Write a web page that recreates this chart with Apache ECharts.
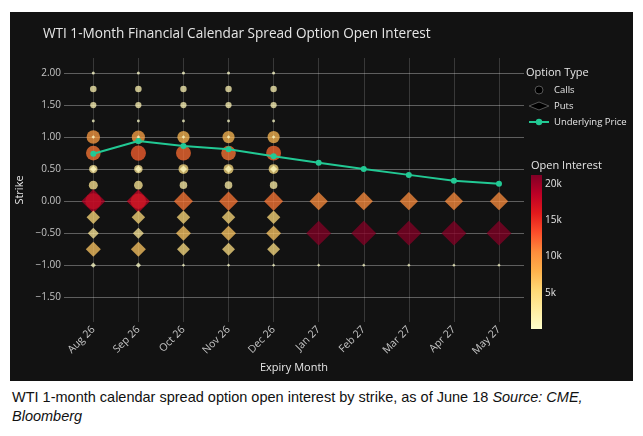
<!DOCTYPE html>
<html>
<head>
<meta charset="utf-8">
<script src="https://cdn.jsdelivr.net/npm/echarts@6/dist/echarts.min.js"></script>
<style>
  html, body { margin: 0; padding: 0; background: #fff; width: 643px; height: 436px; overflow: hidden; }
  #chart { position: absolute; left: 10px; top: 12px; width: 623px; height: 369px; background: #121212; }
  #caption {
    position: absolute; left: 12px; top: 388px; width: 625px;
    font-family: 'Liberation Sans', Arial, sans-serif; font-size: 14.5px; line-height: 19px; color: #111;
  }
</style>
</head>
<body>
<div id="chart"></div>
<div id="caption">WTI 1-month calendar spread option open interest by strike, as of June 18 <i>Source: CME,<br>Bloomberg</i></div>
<script>
const months = ['Aug 26', 'Sep 26', 'Oct 26', 'Nov 26', 'Dec 26', 'Jan 27', 'Feb 27', 'Mar 27', 'Apr 27', 'May 27']

// calls: one row per strike, columns Aug 26 .. Dec 26
const callStrikes = [2.0, 1.75, 1.5, 1.25, 1.0, 0.75, 0.5, 0.25, 0.0]
const callOI = [
  [80, 80, 80, 80, 80],
  [1500, 1500, 1400, 1400, 1400],
  [1300, 1300, 1300, 1300, 1300],
  [60, 60, 60, 60, 60],
  [9500, 9000, 7500, 7500, 7500],
  [11500, 12500, 12000, 11500, 12000],
  [3000, 3000, 4500, 4500, 4500],
  [3500, 3200, 2200, 2200, 2200],
  [14000, 13000, null, null, null]
]

// puts: one row per strike, columns Aug 26 .. May 27
const putStrikes = [1.0, 0.5, 0.0, -0.25, -0.5, -0.75, -1.0]
const putOI = [
  [40, 40, 40, 40, 40, null, null, null, null, null],
  [700, 700, 900, 900, 900, null, null, null, null, null],
  [19000, 18000, 11500, 11500, 11500, 10500, 10500, 10500, 10500, 10500],
  [5000, 5000, 5000, 5000, 5000, null, null, null, null, null],
  [3000, 3000, 6500, 6500, 6500, 21000, 21000, 21000, 21000, 21000],
  [6500, 6500, 4500, 4500, 4500, null, null, null, null, null],
  [300, 300, 20, 20, 20, 20, 20, 20, 20, 20]
]

const underlying = [0.74, 0.94, 0.86, 0.81, 0.70, 0.60, 0.50, 0.41, 0.32, 0.27]

const strikeTicks = [-1.5, -1.0, -0.5, 0, 0.5, 1.0, 1.5, 2.0]
const oiTicks = [5000, 10000, 15000, 20000]
const oiMax = 21200

const ylOrRd = ['#ffffcc', '#ffeda0', '#fed976', '#feb24c', '#fd8d3c', '#fc4e2a', '#e31a1c', '#bd0026', '#800026']

const toPoints = (rows, strikes) =>
  rows.flatMap((row, i) => row.map((v, j) => (v == null ? null : [j, strikes[i], v])).filter(Boolean))

const markerSize = (v) => 2 + Math.sqrt(v) * 0.118

const font = "'Open Sans', 'DejaVu Sans', sans-serif"
const textColor = '#e6e6e6'
const tickColor = '#c4c4c4'

const chart = echarts.init(document.getElementById('chart'))
chart.setOption({
  animation: false,
  backgroundColor: '#121212',
  textStyle: { fontFamily: font },
  title: [
    { text: 'WTI 1-Month Financial Calendar Spread Option Open Interest', left: 28, top: 10,
      textStyle: { color: textColor, fontSize: 13.6, fontWeight: 'normal', fontFamily: font } },
    { text: 'Option Type', left: 511, top: 50,
      textStyle: { color: textColor, fontSize: 11, fontWeight: 'normal', fontFamily: font } },
    { text: 'Open Interest', left: 516, top: 143,
      textStyle: { color: textColor, fontSize: 11, fontWeight: 'normal', fontFamily: font } }
  ],
  legend: {
    orient: 'vertical',
    left: 513,
    top: 68,
    itemWidth: 20,
    itemHeight: 8,
    itemGap: 6,
    selectedMode: false,
    textStyle: { color: textColor, fontSize: 9.5, fontFamily: font },
    data: [
      { name: 'Calls', icon: 'circle', itemStyle: { color: '#000', borderColor: '#555', borderWidth: 1, opacity: 1 } },
      { name: 'Puts', icon: 'diamond', itemStyle: { color: '#000', borderColor: '#555', borderWidth: 1, opacity: 1 } },
      { name: 'Underlying Price' }
    ]
  },
  visualMap: {
    show: false,
    type: 'continuous',
    min: 0,
    max: oiMax,
    dimension: 2,
    seriesIndex: [0, 1],
    inRange: { color: ylOrRd }
  },
  grid: [
    { left: 54, top: 46, width: 460, height: 264, containLabel: false, outerBoundsMode: 'none' },
    { left: 521, top: 163, width: 11, height: 154, containLabel: false, outerBoundsMode: 'none' }
  ],
  xAxis: [
    {
      type: 'value', gridIndex: 0, min: -0.65, max: 9.555,
      name: 'Expiry Month', nameLocation: 'middle', nameGap: 40, nameMoveOverlap: false,
      nameTextStyle: { color: textColor, fontSize: 11, fontFamily: font },
      axisLine: { show: false },
      axisTick: { show: false, customValues: months.map((m, i) => i) },
      axisLabel: {
        customValues: months.map((m, i) => i),
        rotate: 45, margin: 6, color: tickColor, fontSize: 10.5, fontFamily: font,
        formatter: (v) => months[Math.round(v)]
      },
      splitLine: { show: true, lineStyle: { color: 'rgba(255,255,255,0.16)', width: 1 } }
    },
    { type: 'category', gridIndex: 1, data: ['oi'], show: false }
  ],
  yAxis: [
    {
      type: 'value', gridIndex: 0, min: -1.886, max: 2.234,
      name: 'Strike', nameLocation: 'middle', nameGap: 39, nameRotate: 90, nameMoveOverlap: false,
      nameTextStyle: { color: textColor, fontSize: 11, fontFamily: font },
      axisLine: { show: false },
      axisTick: { show: false, customValues: strikeTicks },
      axisLabel: {
        customValues: strikeTicks, margin: 3, color: tickColor, fontSize: 10, fontFamily: font,
        formatter: (v) => v.toFixed(2).replace('-', '\u2212')
      },
      splitLine: { show: true, lineStyle: { color: 'rgba(255,255,255,0.32)', width: 1 } }
    },
    {
      type: 'value', gridIndex: 1, min: 0, max: oiMax, position: 'right',
      axisLine: { show: false },
      axisTick: { show: false, customValues: oiTicks },
      axisLabel: {
        customValues: oiTicks, margin: 3, color: textColor, fontSize: 10, fontFamily: font,
        formatter: (v) => v / 1000 + 'k'
      },
      splitLine: { show: false }
    }
  ],
  series: [
    {
      name: 'Calls', type: 'scatter', symbol: 'circle',
      xAxisIndex: 0, yAxisIndex: 0,
      data: toPoints(callOI, callStrikes),
      symbolSize: (v) => markerSize(v[2]),
      itemStyle: { opacity: 0.75 },
      emphasis: { disabled: true }
    },
    {
      name: 'Puts', type: 'scatter', symbol: 'diamond',
      xAxisIndex: 0, yAxisIndex: 0,
      data: toPoints(putOI, putStrikes),
      symbolSize: (v) => markerSize(v[2]) * 1.3,
      itemStyle: { opacity: 0.75 },
      emphasis: { disabled: true }
    },
    {
      name: 'Underlying Price', type: 'line',
      xAxisIndex: 0, yAxisIndex: 0,
      data: underlying.map((v, i) => [i, v]),
      symbol: 'circle', symbolSize: 6,
      lineStyle: { color: '#22c994', width: 2 },
      itemStyle: { color: '#22c994' },
      emphasis: { disabled: true }
    },
    {
      name: 'colorbar', type: 'bar',
      xAxisIndex: 1, yAxisIndex: 1,
      data: [oiMax], barWidth: '100%', silent: true,
      itemStyle: {
        color: new echarts.graphic.LinearGradient(0, 1, 0, 0,
          ylOrRd.map((c, i) => ({ offset: i / (ylOrRd.length - 1), color: c })))
      }
    }
  ]
})
</script>
</body>
</html>
